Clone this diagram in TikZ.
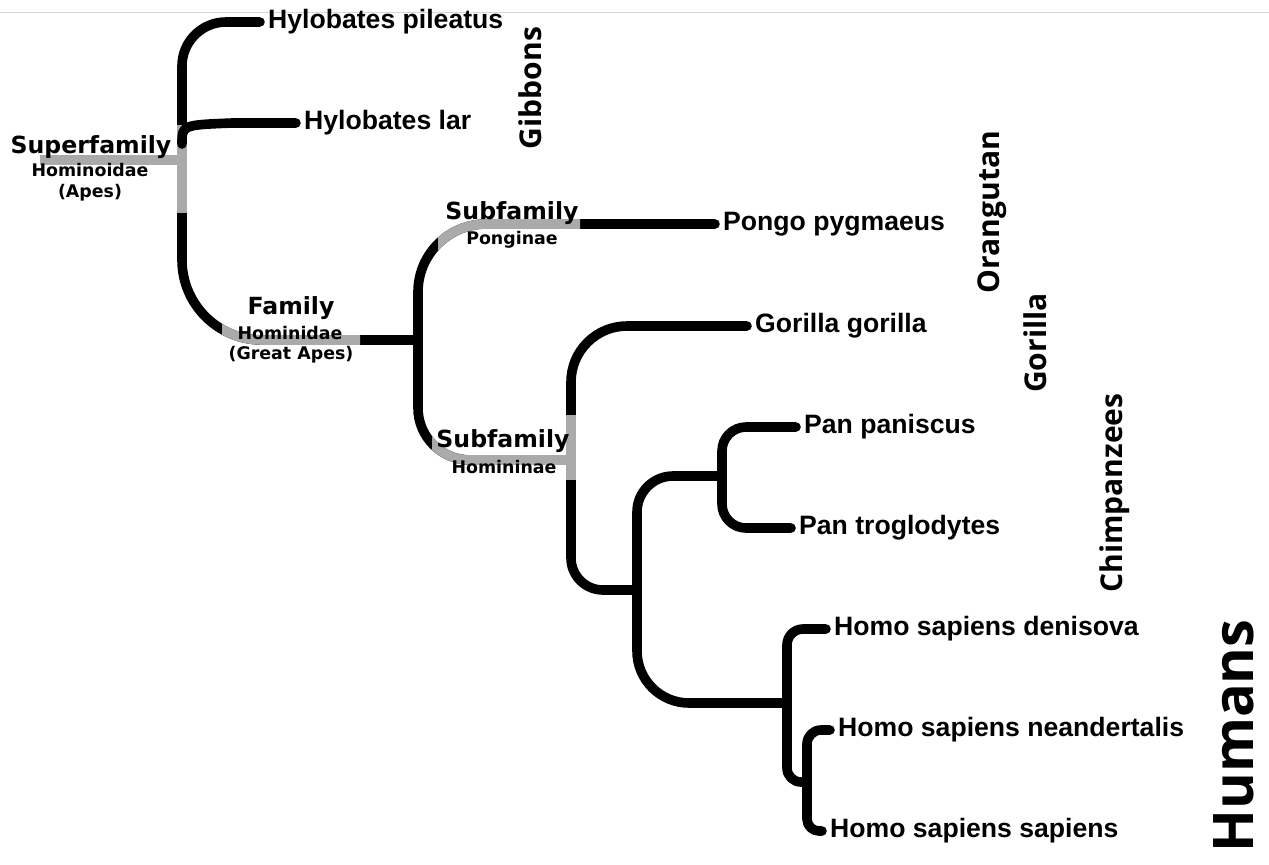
\documentclass[tikz,border=0pt]{standalone}
\usepackage{fontspec}
\setmainfont{Liberation Sans}
\newfontfamily\rankfont{DejaVu Sans}
\newfontfamily\groupfont{Open Sans}
\definecolor{rankgray}{RGB}{170,170,170}
\definecolor{framegray}{RGB}{216,216,216}

\begin{document}
\begin{tikzpicture}[x=0.5pt, y=-0.5pt, line join=round,
    branch/.style={line width=4.8pt, line cap=round},
    rankline/.style={line width=4.8pt, line cap=butt, draw=rankgray},
    species/.style={anchor=west, inner xsep=3.9pt, inner ysep=0pt, font=\bfseries\fontsize{13.3}{15}\selectfont},
    rank/.style={inner sep=0pt, font=\rankfont\bfseries\fontsize{11.8}{14}\selectfont},
    ranksub/.style={inner sep=0pt, font=\rankfont\bfseries\fontsize{8.7}{10}\selectfont},
    group/.style={rotate=90, inner sep=0pt, font=\groupfont\bfseries\fontsize{15}{18}\selectfont}]
    \useasboundingbox (0,0) rectangle (1269,864);
    \draw[framegray, line width=0.75pt] (0,12.5) -- (1269,12.5);

        % Species
        \node[species] (pil) at (260,22) {Hylobates pileatus};
        \node[species] (lar) at (296,123) {Hylobates lar};
        \node[species] (pon) at (715,224) {Pongo pygmaeus};
        \node[species] (gor) at (747,326) {Gorilla gorilla};
        \node[species] (pap) at (796,427) {Pan paniscus};
        \node[species] (ptr) at (791,528) {Pan troglodytes};
        \node[species] (den) at (826,629) {Homo sapiens denisova};
        \node[species] (nea) at (830,730) {Homo sapiens neandertalis};
        \node[species] (sap) at (822,831) {Homo sapiens sapiens};

        % Splits
        \coordinate (sf) at (182,160);
        \coordinate (sftop) at (182,125);
        \coordinate (sfbot) at (182,213);
        \coordinate (sfend) at (40,160);
        \coordinate (larfork) at (182,144);
        \coordinate (larbend) at (232,123);
        \coordinate (fam) at (418,340);
        \coordinate (hmn) at (571,460);
        \coordinate (hmntop) at (571,415);
        \coordinate (hmnbot) at (571,480);
        \coordinate (hpc) at (637,590);
        \coordinate (pan) at (722,476);
        \coordinate (homo) at (787,703);
        \coordinate (hss) at (807,782);

        % Branches
        \draw[branch, rounded corners=22pt] (sftop) |- (pil.west);
        \draw[branch, rounded corners=40pt] (sfbot) |- (fam);
        \draw[branch, rounded corners=34pt] (fam) |- (pon.west);
        \draw[branch, rounded corners=26pt] (fam) |- (hmn);
        \draw[branch, rounded corners=28pt] (hmn) |- (gor.west);
        \draw[branch, rounded corners=16pt] (hmn) |- (hpc);
        \draw[branch, rounded corners=18pt] (hpc) |- (pan);
        \draw[branch, rounded corners=26pt] (hpc) |- (homo);
        \draw[branch, rounded corners=12pt] (pan) |- (pap.west);
        \draw[branch, rounded corners=12pt] (pan) |- (ptr.west);
        \draw[branch, rounded corners=8pt] (homo) |- (den.west);
        \draw[branch, rounded corners=7pt] (homo) |- (hss);
        \draw[branch, rounded corners=7pt] (hss) |- (nea.west);
        \draw[branch, rounded corners=6pt] (hss) |- (sap.west);

        % Ranks in gray
        \draw[rankline] (sfend) -- (sf);
        \draw[rankline] (sftop) -- (sfbot);
        \begin{scope}
            \clip (222,280) rectangle (360,370);
            \draw[rankline, rounded corners=40pt] (sfbot) |- (fam);
        \end{scope}
        \begin{scope}
            \clip (438,190) rectangle (580,265);
            \draw[rankline, rounded corners=34pt] (fam) |- (pon.west);
        \end{scope}
        \begin{scope}
            \clip (432,400) rectangle (571,480);
            \draw[rankline, rounded corners=26pt] (fam) |- (hmn);
        \end{scope}
        \draw[rankline] (hmntop) -- (hmnbot);
        \draw[branch] (larfork) .. controls (182,125) .. (larbend) -- (lar.west);

        % Rank labels
        \node[rank] (sfname) at (91,147) {Superfamily};
        \node[ranksub] (sftaxon) at (90,170) {Hominoidae};
        \node[ranksub] (sfcommon) at (90,193) {(Apes)};
        \node[rank] (famname) at (291,308) {Family};
        \node[ranksub] (famtaxon) at (290,333) {Hominidae};
        \node[ranksub] (famcommon) at (291,355) {(Great Apes)};
        \node[rank] (ponname) at (512,213) {Subfamily};
        \node[ranksub] (pontaxon) at (512,240) {Ponginae};
        \node[rank] (hmnname) at (503,441) {Subfamily};
        \node[ranksub] (hmntaxon) at (504,467) {Homininae};

        % Groups
        \node[group] (gib) at (530,88) {Gibbons};
        \node[group] (ora) at (992,212) {Orangutan};
        \node[group] (gorg) at (1035,343) {Gorilla};
        \node[group] (chi) at (1115,493) {Chimpanzees};
        \node[group, font=\groupfont\bfseries\fontsize{28}{33}\selectfont] (hum) at (1234,736) {Humans};
    \end{tikzpicture}
\end{document}
